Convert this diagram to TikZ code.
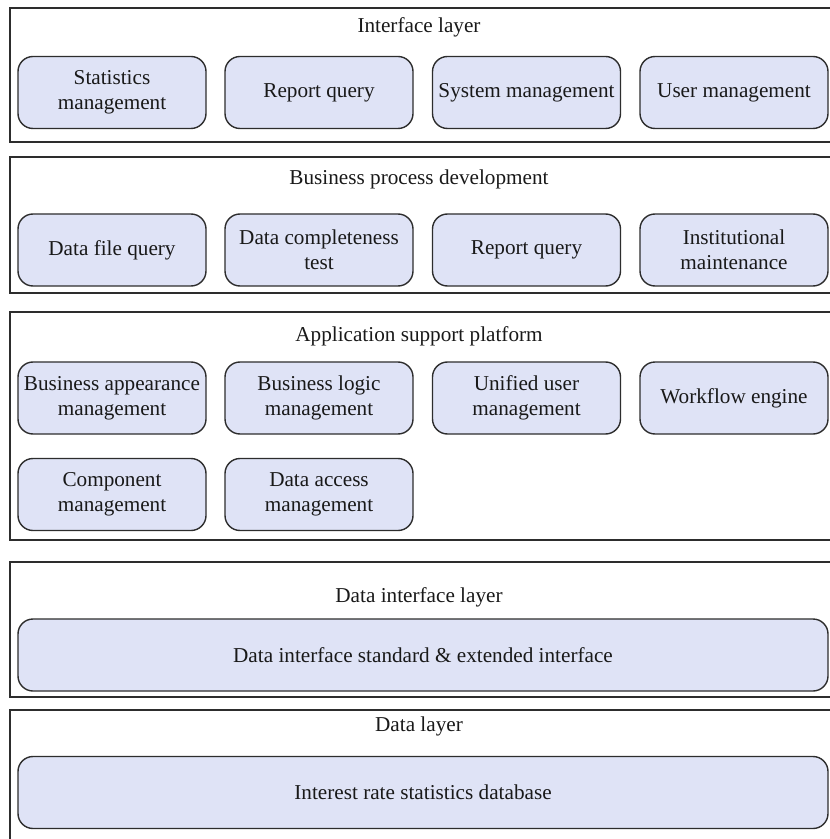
\documentclass[tikz,border=0pt]{standalone}
\usepackage{fontspec}
\setmainfont{Liberation Serif}
\definecolor{boxfill}{RGB}{223,227,246}
\definecolor{linegray}{RGB}{45,45,45}
\begin{document}
\begin{tikzpicture}[x=0.5pt,y=-0.5pt,
  layer/.style={draw=linegray,line width=0.8pt},
  title/.style={text=black!90,font=\fontsize{10.6}{12.5}\selectfont},
  box/.style={draw=linegray,fill=boxfill,rounded corners=7.5pt,line width=0.7pt,
    minimum width=94pt,minimum height=36pt,inner sep=1pt,align=center,
    text=black!90,font=\fontsize{10.6}{12.5}\selectfont},
  widebox/.style={box,minimum width=405pt}]
\useasboundingbox (0,0) rectangle (829,839);

\draw[layer] (10,8) rectangle (836,142);
\node[title] (iface) at (419,27) {Interface layer};
\node[box] (stat) at (112,92.5) {Statistics\\management};
\node[box] (rep1) at (319,92.5) {Report query};
\node[box] (sysm) at (526.5,92.5) {System management};
\node[box] (user) at (734,92.5) {User management};

\draw[layer] (10,157) rectangle (836,293);
\node[title] (bpd) at (419,179) {Business process development};
\node[box] (dfq) at (112,250) {Data file query};
\node[box] (dct) at (319,250) {Data completeness\\test};
\node[box] (rep2) at (526.5,250) {Report query};
\node[box] (inst) at (734,250) {Institutional\\maintenance};

\draw[layer] (10,312) rectangle (836,540);
\node[title] (asp) at (419,336) {Application support platform};
\node[box] (bam) at (112,398) {Business appearance\\management};
\node[box] (blm) at (319,398) {Business logic\\management};
\node[box] (uum) at (526.5,398) {Unified user\\management};
\node[box] (wfe) at (734,398) {Workflow engine};
\node[box] (comp) at (112,494.5) {Component\\management};
\node[box] (dam) at (319,494.5) {Data access\\management};

\draw[layer] (10,562) rectangle (836,697);
\node[title] (dil) at (419,597) {Data interface layer};
\node[widebox] (dis) at (423,655) {Data interface standard \& extended interface};

\draw[layer] (10,710) rectangle (836,850);
\node[title] (dl) at (419,726) {Data layer};
\node[widebox] (irs) at (423,792.5) {Interest rate statistics database};
\end{tikzpicture}
\end{document}
